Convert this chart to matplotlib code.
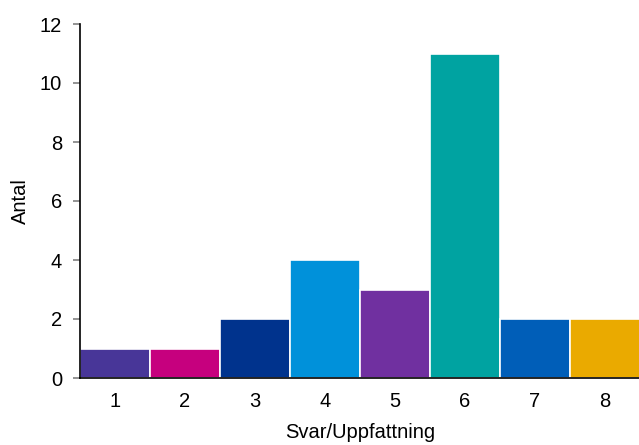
import matplotlib
matplotlib.use('Agg')
import matplotlib.pyplot as plt

plt.rcParams['font.family'] = ['Liberation Sans', 'DejaVu Sans']

# svar och antal
svar = ['1', '2', '3', '4', '5', '6', '7', '8']
antal = [1, 1, 2, 4, 3, 11, 2, 2]
farger = ['#483698', '#C6007E', '#00338D', '#0091DA', '#7030A0', '#00A3A1', '#005EB8', '#EAAA00']

fig = plt.figure(figsize=(6.39, 4.45), dpi=100)
ax = fig.add_axes([80/639, 67/445, 560/639, 354/445])

x = list(range(1, len(svar) + 1))
ax.bar(x, antal, width=1.0, color=farger, edgecolor='white', linewidth=1.2)

ax.set_xlim(0.5, 8.5)
ax.set_ylim(0, 12)
ax.set_yticks(range(0, 13, 2))
ax.set_xticks(x)
ax.set_xticklabels(svar)

for s in ['top', 'right']:
    ax.spines[s].set_visible(False)
ax.spines['left'].set_linewidth(1.2)
ax.spines['bottom'].set_linewidth(1.2)

ax.tick_params(axis='y', length=5, width=1.2, color='#808080', labelsize=14.5, pad=8)
ax.tick_params(axis='x', length=0, labelsize=14.5, pad=10)

ax.set_xlabel('Svar/Uppfattning', fontsize=14.5, labelpad=9)
ax.set_ylabel('Antal', fontsize=14.5, labelpad=7)

fig.savefig('out.png', dpi=100)
